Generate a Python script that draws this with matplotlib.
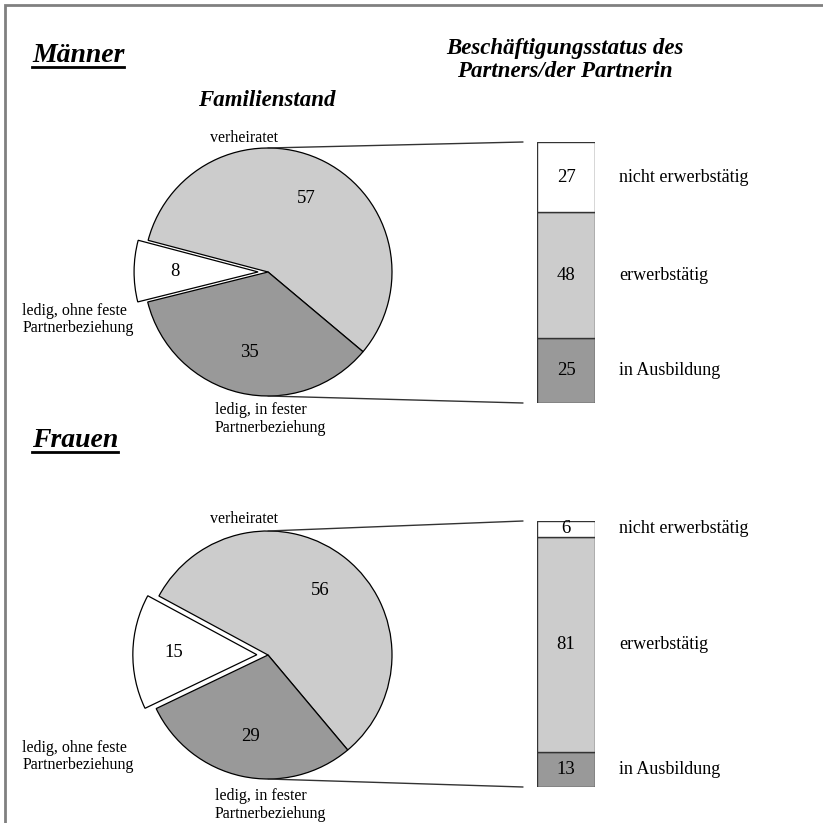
import matplotlib
matplotlib.use('Agg')
import matplotlib.pyplot as plt
from matplotlib.patches import ConnectionPatch, Rectangle
from matplotlib.lines import Line2D

plt.rcParams['font.family'] = ['Liberation Serif', 'DejaVu Serif']

# data
pie_labels = ['verheiratet', 'ledig, ohne feste\nPartnerbeziehung',
              'ledig, in fester\nPartnerbeziehung']
bar_labels = ['in Ausbildung', 'erwerbstätig', 'nicht erwerbstätig']

maenner_pie = [57, 8, 35]
maenner_bar = [25, 48, 27]
frauen_pie = [56, 15, 29]
frauen_bar = [13, 81, 6]

pie_colors = ['#cccccc', 'white', '#999999']
bar_colors = ['#999999', '#cccccc', 'white']

W = 823
fig = plt.figure(figsize=(W / 100, W / 100), dpi=100)


def fx(px):
    return px / W


def fy(py):
    return 1 - py / W


R = 124  # pie radius in px
LIM = 1.3


def panel(cy, bar_top, bar_bot, pie_vals, bar_vals, start, expl, lab_pos):
    side = 2 * LIM * R
    axp = fig.add_axes([fx(268 - side / 2), fy(cy + side / 2), side / W, side / W])
    axp.pie(pie_vals, colors=pie_colors, startangle=start, counterclock=True,
            explode=[0, expl, 0], autopct=lambda p: f'{p:.0f}', pctdistance=0.67,
            wedgeprops=dict(edgecolor='black', linewidth=0.9),
            textprops=dict(fontsize=13.5))
    axp.set_xlim(-LIM, LIM)
    axp.set_ylim(-LIM, LIM)
    axp.set_aspect('equal')
    axp.axis('off')
    for lab, (x, y, ha) in zip(pie_labels, lab_pos):
        axp.text(x, y, lab, ha=ha, va='center', fontsize=11.5, linespacing=1.1)

    axb = fig.add_axes([fx(537), fy(bar_bot), 58 / W, (bar_bot - bar_top) / W])
    bottom = 0
    for v, c, lab in zip(bar_vals, bar_colors, bar_labels):
        axb.bar(0, v, bottom=bottom, width=1, color=c, edgecolor='#333333', linewidth=1)
        axb.text(0, bottom + v / 2, str(v), ha='center', va='center', fontsize=13.5)
        axb.text(0.92, bottom + v / 2, lab, ha='left', va='center', fontsize=13)
        bottom += v
    axb.set_xlim(-0.5, 0.5)
    axb.set_ylim(0, sum(bar_vals))
    axb.axis('off')

    gap = -0.5 - 14 / 58
    for ya, yb in [(1, sum(bar_vals)), (-1, 0)]:
        con = ConnectionPatch(xyA=(0, ya), coordsA=axp.transData,
                              xyB=(gap, yb), coordsB=axb.transData,
                              color='#333333', linewidth=1)
        fig.add_artist(con)


panel(272, 142, 403, maenner_pie, maenner_bar, -40, 0.08,
      [(-0.19, 1.08, 'center'), (-1.98, -0.38, 'left'), (-0.43, -1.185, 'left')])
panel(655, 521, 787, frauen_pie, frauen_bar, -50, 0.09,
      [(-0.19, 1.10, 'center'), (-1.98, -0.82, 'left'), (-0.43, -1.21, 'left')])

# headings
head = dict(fontsize=16.5, fontweight='bold', fontstyle='italic')
fig.text(fx(267), fy(100), 'Familienstand', ha='center', va='center', **head)
fig.text(fx(565), fy(60), 'Beschäftigungsstatus des\nPartners/der Partnerin',
         ha='center', va='center', linespacing=1.15, **head)

renderer = fig.canvas.get_renderer()
for name, base in [('Männer', 62), ('Frauen', 447)]:
    t = fig.text(fx(32), fy(base), name, ha='left', va='baseline',
                 fontsize=20, fontweight='bold', fontstyle='italic')
    bb = t.get_window_extent(renderer)
    fig.add_artist(Line2D([bb.x0 / W, bb.x1 / W], [fy(base + 5), fy(base + 5)],
                          transform=fig.transFigure, color='black', linewidth=2))

# frame
fig.add_artist(Rectangle((fx(5), -0.1), 1.2, fy(5) + 0.1, transform=fig.transFigure,
                         fill=False, edgecolor='#808080', linewidth=2))

fig.savefig('out.png', dpi=100)
